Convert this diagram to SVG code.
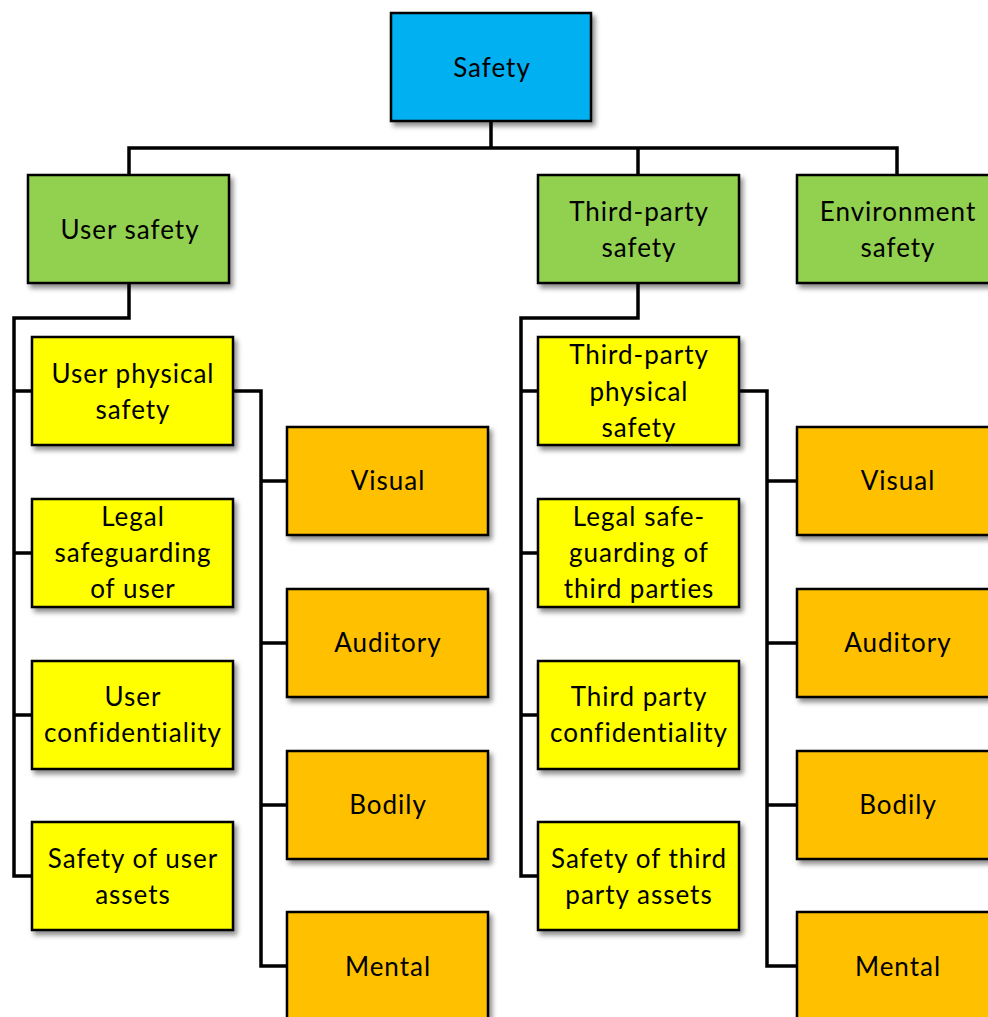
<svg xmlns="http://www.w3.org/2000/svg" width="988" height="1017" viewBox="0 0 988 1017">
  <defs>
    <filter id="shadow" x="-10%" y="-10%" width="130%" height="130%">
      <feDropShadow dx="3" dy="4" stdDeviation="2.5" flood-color="#000" flood-opacity="0.45"/>
    </filter>
  </defs>
  <style>
    .box { stroke: #000; stroke-width: 2.5; filter: url(#shadow); }
    .root { fill: #00B0F0; }
    .l1 { fill: #92D050; }
    .l2 { fill: #FFFF00; }
    .l3 { fill: #FFC000; }
    .lbl { font-family: Lato, "Liberation Sans", sans-serif; font-size: 26px; letter-spacing: 1px; font-variant-ligatures: none; fill: #000; text-anchor: middle; }
    .wire { fill: none; stroke: #000; stroke-width: 3.5; stroke-linejoin: miter; }
  </style>

  <!-- connectors -->
  <g id="connectors">
    <path class="wire" d="M491 121 V148 M129 175 V148 H897 V175 M638 148 V175"/>
    <!-- user safety subtree -->
    <path class="wire" d="M129 283 V318 H14 V876 H32 M14 391 H32 M14 553 H32 M14 715 H32"/>
    <path class="wire" d="M233 391 H261 V966 H287 M261 481 H287 M261 643 H287 M261 805 H287"/>
    <!-- third-party subtree -->
    <path class="wire" d="M638 283 V318 H521 V876 H538 M521 391 H538 M521 553 H538 M521 715 H538"/>
    <path class="wire" d="M739 391 H767 V966 H797 M767 481 H797 M767 643 H797 M767 805 H797"/>
  </g>

  <g id="safety">
    <rect class="box root" x="391" y="13" width="200" height="108"/>
    <text class="lbl" x="492" y="77">Safety</text>
  </g>

  <g id="user-safety">
    <rect class="box l1" x="28" y="175" width="201" height="108"/>
    <text class="lbl" x="130" y="239">User safety</text>
  </g>
  <g id="third-party-safety">
    <rect class="box l1" x="538" y="175" width="201" height="108"/>
    <text class="lbl" x="639" y="221">Third-party</text>
    <text class="lbl" x="639" y="257">safety</text>
  </g>
  <g id="environment-safety">
    <rect class="box l1" x="797" y="175" width="201" height="108"/>
    <text class="lbl" x="898" y="221">Environment</text>
    <text class="lbl" x="898" y="257">safety</text>
  </g>

  <!-- user branch -->
  <g id="user-physical-safety">
    <rect class="box l2" x="32" y="337" width="201" height="108"/>
    <text class="lbl" x="133" y="383">User physical</text>
    <text class="lbl" x="133" y="419">safety</text>
  </g>
  <g id="legal-safeguarding-user">
    <rect class="box l2" x="32" y="499" width="201" height="108"/>
    <text class="lbl" x="133" y="526">Legal</text>
    <text class="lbl" x="133" y="562">safeguarding</text>
    <text class="lbl" x="133" y="598">of user</text>
  </g>
  <g id="user-confidentiality">
    <rect class="box l2" x="32" y="661" width="201" height="108"/>
    <text class="lbl" x="133" y="706">User</text>
    <text class="lbl" x="133" y="742">confidentiality</text>
  </g>
  <g id="safety-user-assets">
    <rect class="box l2" x="32" y="822" width="201" height="108"/>
    <text class="lbl" x="133" y="868">Safety of user</text>
    <text class="lbl" x="133" y="904">assets</text>
  </g>

  <g id="user-visual">
    <rect class="box l3" x="287" y="427" width="201" height="108"/>
    <text class="lbl" x="388" y="490">Visual</text>
  </g>
  <g id="user-auditory">
    <rect class="box l3" x="287" y="589" width="201" height="108"/>
    <text class="lbl" x="388" y="652">Auditory</text>
  </g>
  <g id="user-bodily">
    <rect class="box l3" x="287" y="751" width="201" height="108"/>
    <text class="lbl" x="388" y="814">Bodily</text>
  </g>
  <g id="user-mental">
    <rect class="box l3" x="287" y="912" width="201" height="108"/>
    <text class="lbl" x="388" y="976">Mental</text>
  </g>

  <!-- third-party branch -->
  <g id="third-party-physical-safety">
    <rect class="box l2" x="538" y="337" width="201" height="108"/>
    <text class="lbl" x="639" y="364">Third-party</text>
    <text class="lbl" x="639" y="401">physical</text>
    <text class="lbl" x="639" y="437">safety</text>
  </g>
  <g id="legal-safeguarding-third">
    <rect class="box l2" x="538" y="499" width="201" height="108"/>
    <text class="lbl" x="639" y="526">Legal safe-</text>
    <text class="lbl" x="639" y="562">guarding of</text>
    <text class="lbl" x="639" y="598">third parties</text>
  </g>
  <g id="third-party-confidentiality">
    <rect class="box l2" x="538" y="661" width="201" height="108"/>
    <text class="lbl" x="639" y="706">Third party</text>
    <text class="lbl" x="639" y="742">confidentiality</text>
  </g>
  <g id="safety-third-party-assets">
    <rect class="box l2" x="538" y="822" width="201" height="108"/>
    <text class="lbl" x="639" y="868">Safety of third</text>
    <text class="lbl" x="639" y="904">party assets</text>
  </g>

  <g id="third-visual">
    <rect class="box l3" x="797" y="427" width="201" height="108"/>
    <text class="lbl" x="898" y="490">Visual</text>
  </g>
  <g id="third-auditory">
    <rect class="box l3" x="797" y="589" width="201" height="108"/>
    <text class="lbl" x="898" y="652">Auditory</text>
  </g>
  <g id="third-bodily">
    <rect class="box l3" x="797" y="751" width="201" height="108"/>
    <text class="lbl" x="898" y="814">Bodily</text>
  </g>
  <g id="third-mental">
    <rect class="box l3" x="797" y="912" width="201" height="108"/>
    <text class="lbl" x="898" y="976">Mental</text>
  </g>
</svg>
